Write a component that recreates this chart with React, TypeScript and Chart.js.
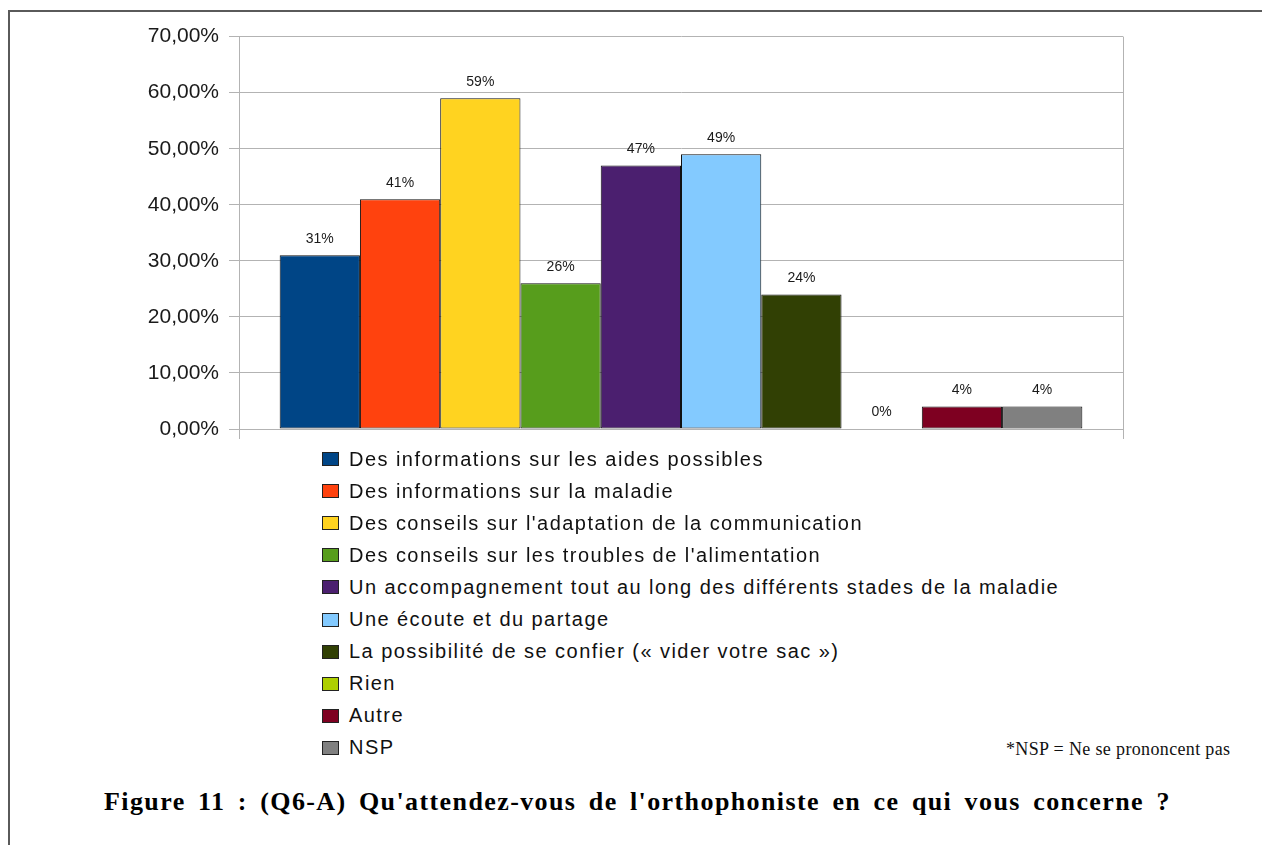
import React, { useEffect, useRef } from "react";
import { Chart, registerables } from "chart.js";

Chart.register(...registerables);

const seriesLabels = [
  "Des informations sur les aides possibles",
  "Des informations sur la maladie",
  "Des conseils sur l'adaptation de la communication",
  "Des conseils sur les troubles de l'alimentation",
  "Un accompagnement tout au long des différents stades de la maladie",
  "Une écoute et du partage",
  "La possibilité de se confier (« vider votre sac »)",
  "Rien",
  "Autre",
  "NSP",
];
const seriesValues = [31, 41, 59, 26, 47, 49, 24, 0, 4, 4];
const seriesColors = [
  "#004586",
  "#ff420e",
  "#ffd320",
  "#579d1c",
  "#4b1f6f",
  "#83caff",
  "#314004",
  "#aecf00",
  "#7e0021",
  "#808080",
];
const yTicks = { min: 0, max: 70, step: 10 };
const captionText =
  "Figure 11 : (Q6-A) Qu'attendez-vous de l'orthophoniste en ce qui vous concerne ?";
const footnoteText = "*NSP = Ne se prononcent pas";

const SANS = "'Liberation Sans', Arial, sans-serif";
const SERIF = "'Liberation Serif', 'Times New Roman', serif";

const valueLabelPlugin = {
  id: "valueLabels",
  afterDatasetsDraw(chart: any) {
    const ctx = chart.ctx;
    ctx.save();
    ctx.font = `14px ${SANS}`;
    ctx.fillStyle = "#1a1a1a";
    ctx.textAlign = "center";
    ctx.textBaseline = "middle";
    chart.data.datasets.forEach((ds: any, i: number) => {
      const meta = chart.getDatasetMeta(i);
      const bar = meta.data[0];
      if (!bar) return;
      ctx.fillText(`${ds.data[0]}%`, bar.x, bar.y - 16.5);
    });
    ctx.restore();
  },
};

export default function App() {
  const ref = useRef<HTMLCanvasElement | null>(null);

  useEffect(() => {
    if (!ref.current) return;
    const chart = new Chart(ref.current, {
      type: "bar",
      data: {
        labels: [""],
        datasets: seriesLabels.map((label, i) => ({
          label,
          data: [seriesValues[i]],
          backgroundColor: seriesColors[i],
          borderColor: "#111111",
          borderWidth: seriesValues[i] === 0 ? 0 : 1,
          borderSkipped: false as any,
          categoryPercentage: 0.908,
          barPercentage: 1,
        })),
      },
      options: {
        responsive: false,
        animation: false,
        layout: { padding: { left: 0, top: 0, right: 17, bottom: 31 } },
        plugins: {
          legend: { display: false },
          tooltip: { enabled: false },
          title: { display: false },
        },
        scales: {
          x: {
            offset: true,
            ticks: { display: false },
            grid: {
              display: true,
              offset: true,
              color: "#b3b3b3",
              lineWidth: 1,
              drawTicks: true,
              tickLength: 10,
            },
            border: { display: true, color: "#b3b3b3", width: 1 },
            afterFit: (s: any) => {
              s.height = 10;
            },
          },
          y: {
            min: yTicks.min,
            max: yTicks.max,
            ticks: {
              stepSize: yTicks.step,
              padding: 10,
              color: "#1a1a1a",
              font: { family: SANS, size: 21 },
              callback: (v: any) => Number(v).toFixed(2).replace(".", ",") + "%",
            },
            grid: {
              color: "#b3b3b3",
              lineWidth: 1,
              drawTicks: true,
              tickLength: 10,
            },
            border: { display: true, color: "#b3b3b3", width: 1 },
            afterFit: (s: any) => {
              s.width = 159;
            },
          },
        },
      },
      plugins: [valueLabelPlugin],
    });
    return () => chart.destroy();
  }, []);

  return (
    <div style={{ position: "fixed", left: 0, top: 0, width: "100vw", height: "100vh", overflow: "hidden", background: "#fff" }}>
      <div style={{ position: "absolute", left: 8, top: 10, right: 0, height: 2, background: "#5a5a5a" }} />
      <div style={{ position: "absolute", left: 8, top: 10, width: 2, bottom: 0, background: "#5a5a5a" }} />
      <canvas
        ref={ref}
        width={1060}
        height={456}
        style={{ position: "absolute", left: 80, top: 14, width: 1060, height: 456 }}
      />
      {seriesLabels.map((label, i) => (
        <div
          key={label}
          style={{
            position: "absolute",
            left: 322,
            top: 459 + 32.1 * i - 16,
            height: 32,
            display: "flex",
            alignItems: "center",
            whiteSpace: "nowrap",
            fontFamily: SANS,
            fontSize: 20,
            letterSpacing: "1.45px",
            color: "#111",
          }}
        >
          <span
            style={{
              display: "inline-block",
              width: 15,
              height: 12,
              background: seriesColors[i],
              border: "1px solid #222",
              marginRight: 10,
            }}
          />
          <span>{label}</span>
        </div>
      ))}
      <div
        style={{
          position: "absolute",
          left: 1006,
          top: 738.5,
          fontFamily: SERIF,
          fontSize: 18,
          letterSpacing: "0.35px",
          color: "#111",
          whiteSpace: "nowrap",
        }}
      >
        {footnoteText}
      </div>
      <div
        style={{
          position: "absolute",
          left: 104,
          top: 787,
          fontFamily: SERIF,
          fontSize: 26,
          fontWeight: "bold",
          letterSpacing: "1.4px",
          wordSpacing: "4.5px",
          color: "#000",
          whiteSpace: "nowrap",
        }}
      >
        {captionText}
      </div>
    </div>
  );
}
